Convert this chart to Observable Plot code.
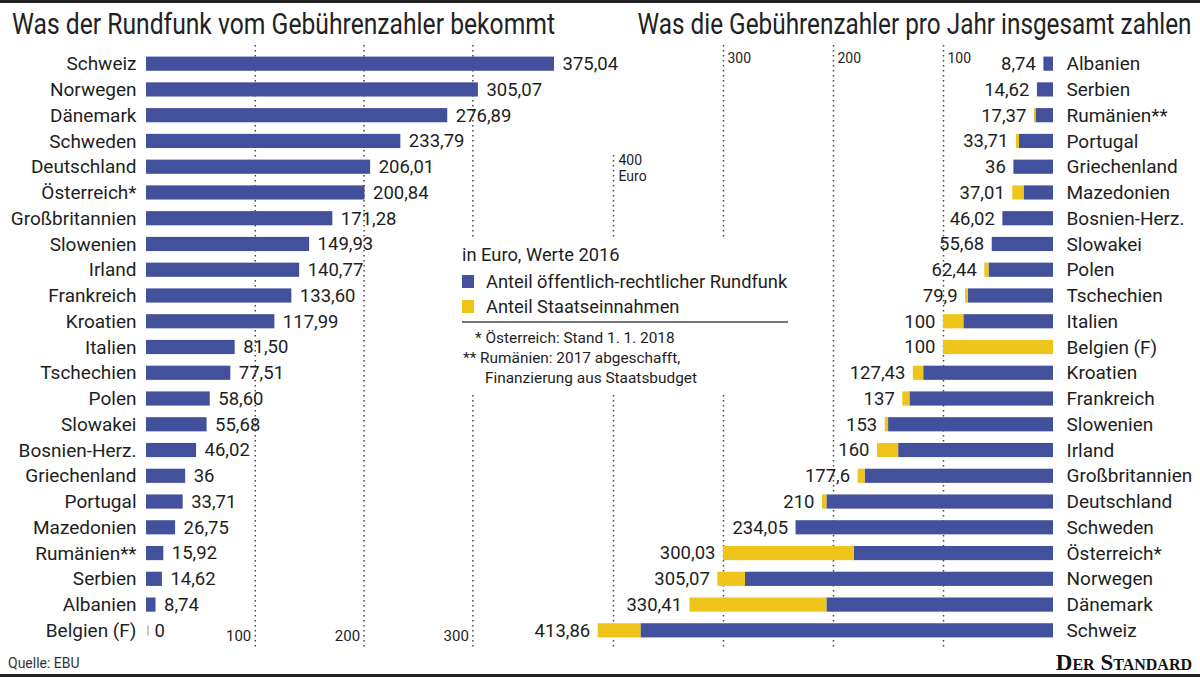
<!DOCTYPE html>
<html><head><meta charset="utf-8">
<script src="https://cdn.jsdelivr.net/npm/d3@7"></script>
<script src="https://cdn.jsdelivr.net/npm/@observablehq/plot@0.6"></script>
<style>
body{margin:0;background:#fff;font-family:Roboto,sans-serif;color:#1e1e1e}
#wrap{position:relative;width:1200px;height:677px;overflow:hidden;background:#fff}
.abs{position:absolute;white-space:nowrap;line-height:1}
.title{font-size:29px;color:#222}
.leg{font-size:18.3px}
.note{font-size:15.4px}
.sw{position:absolute;width:12px;height:13px}
</style></head><body><div id="wrap">
<div class="abs" style="left:0;top:0;width:1200px;height:3px;background:#222"></div>
<div class="abs" style="left:0;top:674px;width:1200px;height:3px;background:#222"></div>
<div id="leftPlot" class="abs" style="left:0;top:0"></div>
<div id="rightPlot" class="abs" style="left:590px;top:0"></div>
<div id="t1" class="abs title" style="left:12px;top:10px;transform-origin:left top">Was der Rundfunk vom Gebührenzahler bekommt</div>
<div id="t2" class="abs title" style="right:8px;top:10px;transform-origin:right top">Was die Gebührenzahler pro Jahr insgesamt zahlen</div>
<div class="abs" style="left:455px;top:238px;width:340px;height:154px;background:#fff"></div>
<div class="abs leg" style="left:462px;top:246px">in Euro, Werte 2016</div>
<div class="sw" style="left:462px;top:275px;background:#43509b"></div>
<div class="abs leg" style="left:486px;top:273px">Anteil öffentlich-rechtlicher Rundfunk</div>
<div class="sw" style="left:462px;top:300px;background:#efc41b"></div>
<div class="abs leg" style="left:486px;top:298px">Anteil Staatseinnahmen</div>
<div class="abs" style="left:462px;top:321px;width:326px;height:1.5px;background:#777"></div>
<div class="abs note" style="left:475px;top:331px">* Österreich: Stand 1. 1. 2018</div>
<div class="abs note" style="left:463px;top:351px">** Rumänien: 2017 abgeschafft,</div>
<div class="abs note" style="left:485px;top:371px">Finanzierung aus Staatsbudget</div>
<div class="abs" style="left:8px;top:656px;font-size:14px;color:#333">Quelle: EBU</div>
<div class="abs" style="right:8px;top:651px;font-size:23px;font-family:'Liberation Serif',serif;font-weight:bold;font-variant:small-caps;color:#111">Der Standard</div>
</div>
<script>
const blue = "#43509b";
const yellow = "#efc41b";

const leftCountries = ["Schweiz","Norwegen","Dänemark","Schweden","Deutschland","Österreich*","Großbritannien","Slowenien","Irland","Frankreich","Kroatien","Italien","Tschechien","Polen","Slowakei","Bosnien-Herz.","Griechenland","Portugal","Mazedonien","Rumänien**","Serbien","Albanien","Belgien (F)"];
const leftValues = [375.04,305.07,276.89,233.79,206.01,200.84,171.28,149.93,140.77,133.60,117.99,81.50,77.51,58.60,55.68,46.02,36,33.71,26.75,15.92,14.62,8.74,0];
const leftLabels = ["375,04","305,07","276,89","233,79","206,01","200,84","171,28","149,93","140,77","133,60","117,99","81,50","77,51","58,60","55,68","46,02","36","33,71","26,75","15,92","14,62","8,74","0"];
const leftTicks = [100,200,300];

const rightCountries = ["Albanien","Serbien","Rumänien**","Portugal","Griechenland","Mazedonien","Bosnien-Herz.","Slowakei","Polen","Tschechien","Italien","Belgien (F)","Kroatien","Frankreich","Slowenien","Irland","Großbritannien","Deutschland","Schweden","Österreich*","Norwegen","Dänemark","Schweiz"];
const rightRundfunk = [8.74,14.62,15.92,31.0,36,26.75,46.02,55.68,58.60,77.51,81.50,0,117.99,130.5,149.93,140.77,171.28,206.01,234.05,181,280,206,375.04];
const rightStaat = [0,0,1.45,2.71,0,10.26,0,0,3.84,2.39,18.50,100,9.44,6.5,3.07,19.23,6.32,3.99,0,119.03,25.07,124.41,38.82];
const rightLabels = ["8,74","14,62","17,37","33,71","36","37,01","46,02","55,68","62,44","79,9","100","100","127,43","137","153","160","177,6","210","234,05","300,03","305,07","330,41","413,86"];
const rightTicks = [100,200,300];
const rightTopTick = [400];
const parts = ["Anteil öffentlich-rechtlicher Rundfunk","Anteil Staatseinnahmen"];

const grid = {stroke:"#444", strokeWidth:1.5, strokeDasharray:"1.5 3.5"};

const leftData = leftCountries.map((c,i)=>({c, v:leftValues[i], label:leftLabels[i]}));
const left = Plot.plot({
  width: 640, height: 677,
  marginTop: 45, marginBottom: 28, marginLeft: 146, marginRight: 40,
  x: {domain:[0, 417.3], axis: null},
  y: {domain: leftCountries, padding: 0.45, round:false, axis: null},
  style: {fontFamily:"Roboto, sans-serif", fontSize:"19px", color:"#1e1e1e", background:"transparent", overflow:"visible"},
  marks: [
    Plot.ruleX(leftTicks, grid),
    Plot.barX(leftData, {x:"v", y:"c", fill: blue}),
    Plot.tickX(leftData.filter(d=>d.v===0), {x:"v", y:"c", stroke:"#c8c8c8", strokeWidth:2, dx:1.5, insetTop:2, insetBottom:2}),
    Plot.text(leftData, {x:"v", y:"c", text:"label", textAnchor:"start", dx:8, fontSize:18.5}),
    Plot.text(leftTicks, {x:d=>d, frameAnchor:"bottom", text:d=>String(d), textAnchor:"end", dx:-4, dy:-9, fontSize:15}),
    Plot.axisY({tickSize:0, tickPadding:10, label:null, fontSize:19})
  ]
});
document.getElementById("leftPlot").appendChild(left);

const rightLong = rightCountries.flatMap((c,i)=>[
  {c, part:parts[0], v:rightRundfunk[i]},
  {c, part:parts[1], v:rightStaat[i]}
]);
const rightTotals = rightCountries.map((c,i)=>({c, t:rightRundfunk[i]+rightStaat[i], label:rightLabels[i]}));
const right = Plot.plot({
  width: 610, height: 677,
  marginTop: 45, marginBottom: 28, marginLeft: 0, marginRight: 147,
  x: {domain:[0, 420.9], reverse:true, axis:null},
  y: {domain: rightCountries, padding: 0.45, round:false, axis:null},
  color: {domain: parts, range:[blue, yellow]},
  style: {fontFamily:"Roboto, sans-serif", fontSize:"19px", color:"#1e1e1e", background:"transparent", overflow:"visible"},
  marks: [
    Plot.ruleX(rightTicks, grid),
    Plot.ruleX(rightTopTick, {...grid, insetTop:110}),
    Plot.barX(rightLong, {x:"v", y:"c", fill:"part"}),
    Plot.text(rightTotals, {x:"t", y:"c", text:"label", textAnchor:"end", dx:-8, fontSize:18.5}),
    Plot.text(rightTicks, {x:d=>d, frameAnchor:"top", text:d=>String(d), textAnchor:"start", dx:4, dy:8, fontSize:14}),
    Plot.text(rightTopTick, {x:d=>d, frameAnchor:"top", text:d=>d+"\nEuro", textAnchor:"start", lineAnchor:"top", lineHeight:1.1, dx:5, dy:109, fontSize:14}),
    Plot.axisY({anchor:"right", tickSize:0, tickPadding:13, label:null, fontSize:19})
  ]
});
document.getElementById("rightPlot").appendChild(right);

// fit titles to the reference widths
function fit(id, w){
  const el = document.getElementById(id);
  const cw = el.getBoundingClientRect().width;
  el.style.transform = `scaleX(${w/cw})`;
}
fit("t1", 543);
fit("t2", 554);
</script>
</body></html>
